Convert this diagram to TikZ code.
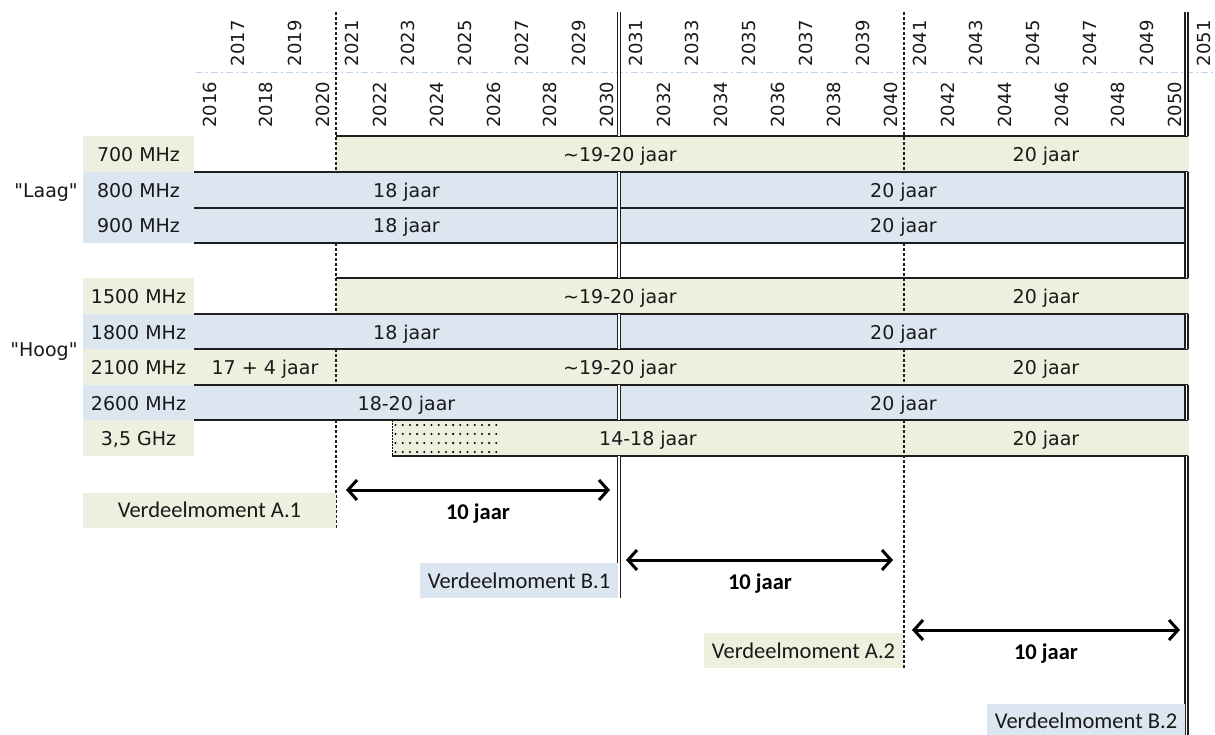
\documentclass[tikz,border=0pt]{standalone}
\usepackage{fontspec}
\setmainfont{DejaVu Sans}[Ligatures=TeXOff]
\newfontfamily\calfont{Carlito}
\usetikzlibrary{arrows.meta}
\definecolor{grn}{RGB}{235,241,222}
\definecolor{blu}{RGB}{220,230,241}
\definecolor{lc}{RGB}{30,30,30}
\definecolor{lightb}{RGB}{190,215,238}
\definecolor{txt}{RGB}{25,25,25}
\tikzset{
  hline/.style={draw=lc, line width=2pt},
  dline/.style={draw=lc, line width=1.4pt, dash pattern=on 3pt off 2pt},
  dbl/.style={draw=lc, line width=1.5pt, double=white, double distance=1.8pt},
  rowtxt/.style={font=\fontsize{19}{22}\selectfont, text=txt, inner sep=0pt, anchor=base},
  yrtxt/.style={font=\fontsize{18}{20}\selectfont, text=txt, inner sep=0pt, rotate=90, anchor=west},
  vbox/.style={font=\calfont\fontsize{22.5}{26}\selectfont, text=txt, inner sep=0pt, minimum height=35pt},
  jtxt/.style={font=\calfont\bfseries\fontsize{22.5}{26}\selectfont, text=black, inner sep=0pt, anchor=base},
  span/.style={draw=black, line width=3pt, {Straight Barb[length=9pt,width=20pt]}-{Straight Barb[length=9pt,width=20pt]}}
}
\begin{document}
\begin{tikzpicture}[x=1pt,y=-1pt]
\useasboundingbox (0,0) rectangle (1215,735);
\fill[white] (0,0) rectangle (1215,735);
% row fills
\fill[grn] (83,136) rectangle (194,172);
\fill[grn] (336,136) rectangle (1188.5,172);
\fill[blu] (83,172) rectangle (1188.5,243);
\fill[grn] (83,278) rectangle (194,314);
\fill[grn] (336,278) rectangle (1188.5,314);
\fill[blu] (83,314) rectangle (1188.5,349);
\fill[grn] (83,349) rectangle (1188.5,385);
\fill[blu] (83,385) rectangle (1188.5,420);
\fill[grn] (83,420) rectangle (194,456);
\fill[grn] (392,420) rectangle (1188.5,456);
% dotted part of 3,5 GHz
\foreach \i in {0,...,14} {
  \foreach \j in {0,...,3} {
    \fill[black] (395.5+7.2*\i, 425+9*\j) circle (1.15pt);
  }
}
\draw[black, line width=1.4pt, dash pattern=on 1.5pt off 1.5pt] (392.5,420) -- (392.5,456);
% light separator between year rows
\draw[lightb, line width=1pt, dash pattern=on 7pt off 3pt on 2pt off 3pt] (196,73) -- (1215,73);
% horizontal borders
\draw[hline] (336,136) -- (1188,136);
\draw[hline] (194,172) -- (1188,172);
\draw[hline] (194,208) -- (1188,208);
\draw[hline] (194,243) -- (1188,243);
\draw[hline] (336,278) -- (1188,278);
\draw[hline] (194,314) -- (1188,314);
\draw[hline] (194,349) -- (1188,349);
\draw[hline] (194,385) -- (1188,385);
\draw[hline] (194,420) -- (1188,420);
\draw[hline] (392,456) -- (1188,456);
% dashed verticals (hidden by blue rows)
\foreach \xx/\yb in {336/528, 904/668} {
  \draw[dline] (\xx,12) -- (\xx,172);
  \draw[dline] (\xx,243) -- (\xx,314);
  \draw[dline] (\xx,349) -- (\xx,385);
  \draw[dline] (\xx,420) -- (\xx,\yb);
}
% double verticals (hidden by green rows)
\foreach \xx/\yb in {619/598, 1186.5/735} {
  \draw[dbl] (\xx,12) -- (\xx,136);
  \draw[dbl] (\xx,172) -- (\xx,278);
  \draw[dbl] (\xx,314) -- (\xx,349);
  \draw[dbl] (\xx,385) -- (\xx,420);
  \draw[dbl] (\xx,456) -- (\xx,\yb);
}
% years
\foreach \yr in {2016,...,2051} {
  \pgfmathsetmacro{\cx}{194+28.4*(\yr-2016)+15.5}
  \pgfmathtruncatemacro{\odd}{mod(\yr,2)}
  \ifnum\odd=1
    \node[yrtxt] (y\yr) at (\cx,66.5) {\yr};
  \else
    \node[yrtxt] (y\yr) at (\cx,128) {\yr};
  \fi
}
% group labels
\node[rowtxt] (laag) at (46,197.5) {"Laag"};
\node[rowtxt] (hoog) at (44,356.5) {"Hoog"};
% row labels
\node[rowtxt] (l700) at (138.5,161.5) {700 MHz};
\node[rowtxt] (l800) at (138.5,197.5) {800 MHz};
\node[rowtxt] (l900) at (138.5,233) {900 MHz};
\node[rowtxt] (l1500) at (138.5,303.5) {1500 MHz};
\node[rowtxt] (l1800) at (138.5,339) {1800 MHz};
\node[rowtxt] (l2100) at (138.5,374.5) {2100 MHz};
\node[rowtxt] (l2600) at (138.5,410) {2600 MHz};
\node[rowtxt] (l35) at (138.5,445.5) {3,5 GHz};
% bar texts
\node[rowtxt] (t700a) at (620,161.5) {\textasciitilde19-20 jaar};
\node[rowtxt] (t700b) at (1046,161.5) {20 jaar};
\node[rowtxt] (t800a) at (406.5,197.5) {18 jaar};
\node[rowtxt] (t800b) at (903.5,197.5) {20 jaar};
\node[rowtxt] (t900a) at (406.5,233) {18 jaar};
\node[rowtxt] (t900b) at (903.5,233) {20 jaar};
\node[rowtxt] (t1500a) at (620,303.5) {\textasciitilde19-20 jaar};
\node[rowtxt] (t1500b) at (1046,303.5) {20 jaar};
\node[rowtxt] (t1800a) at (406.5,339) {18 jaar};
\node[rowtxt] (t1800b) at (903.5,339) {20 jaar};
\node[rowtxt] (t2100a) at (265,374.5) {17 + 4 jaar};
\node[rowtxt] (t2100b) at (620,374.5) {\textasciitilde19-20 jaar};
\node[rowtxt] (t2100c) at (1046,374.5) {20 jaar};
\node[rowtxt] (t2600a) at (406.5,410) {18-20 jaar};
\node[rowtxt] (t2600b) at (903.5,410) {20 jaar};
\node[rowtxt] (t35a) at (648,445.5) {14-18 jaar};
\node[rowtxt] (t35b) at (1046,445.5) {20 jaar};
% allocation moments
\node[vbox, fill=grn, minimum width=253pt] (vA1) at (209.5,510) {Verdeelmoment A.1};
\node[vbox, fill=blu, minimum width=198pt] (vB1) at (519,580.5) {Verdeelmoment B.1};
\node[vbox, fill=grn, minimum width=199pt] (vA2) at (803.5,650.5) {Verdeelmoment A.2};
\node[vbox, fill=blu, minimum width=198pt] (vB2) at (1086,721) {Verdeelmoment B.2};
% spans
\coordinate (a1s) at (346,490);
\coordinate (a1e) at (610,490);
\coordinate (a2s) at (626,560);
\coordinate (a2e) at (893,560);
\coordinate (a3s) at (912,630);
\coordinate (a3e) at (1180,630);
\draw[span] (a1s) -- (a1e);
\draw[span] (a2s) -- (a2e);
\draw[span] (a3s) -- (a3e);
\node[jtxt] (j1) at (478,519) {10 jaar};
\node[jtxt] (j2) at (760,589) {10 jaar};
\node[jtxt] (j3) at (1046,659) {10 jaar};
\end{tikzpicture}
\end{document}
